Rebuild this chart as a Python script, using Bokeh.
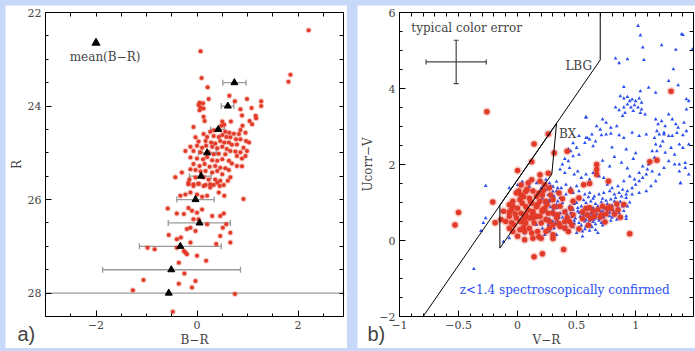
from bokeh.plotting import figure
from bokeh.layouts import row, column
from bokeh.models import (Range1d, LinearAxis, SingleIntervalTicker, FixedTicker, Label, Whisker,
                          TeeHead, ColumnDataSource)
from bokeh.embed import file_html
from bokeh.resources import INLINE

# ---------------- Panel a) data : R vs B-R ----------------
a_br = [2.21, 1.85, 1.81, 0.07, 0.09, 0.21, 0.64, 0.23, 0.99, 0.75, 1.27, 1.27, 0.05, 0.12, 0.03,
        0.07, 0.05, 0.13, 1.08, 0.86, 0.89, 1.16, 1.17, 0.13, 0.15, 1.04, 1.09, -0.07, 0.67, 0.90,
        0.86, 0.50, 0.54, 0.48,
        0.26, 0.34, 0.56, 0.64, 0.73, 0.83, 0.96,
        0.13, 0.20, 0.33, 0.43, 0.50, 0.58, 0.66, 0.77, 0.86, 0.97, 1.03,
        -0.03, 0.03, 0.17, 0.28, 0.36, 0.46, 0.54, 0.63, 0.69, 0.79, 0.92, 0.99,
        -0.13, 0.00, 0.10, 0.18, 0.30, 0.40, 0.50, 0.59, 0.66, 0.76, 0.86, 0.96,
        -0.23, -0.07, 0.07, 0.23, 0.33, 0.43, 0.56, 0.79, 0.89,
        -0.13, 0.00, 0.12, 0.20, 0.30, 0.40, 0.50, 0.63, 0.69,
        -0.07, 0.05, 0.15, 0.25, 0.36, 0.46, 0.56, 0.79, 0.89,
        -0.13, -0.03, 0.07, 0.17, 0.30, 0.40, 0.50, 0.63, 0.66,
        -0.43, -0.30, -0.15, -0.03, 0.13, 0.23, 0.36, 0.46, 0.61,
        -0.17, -0.07, 0.03, 0.17, 0.26, 0.33, 0.45,
        -0.17, -0.07, 0.03, 0.13, 0.26, 0.40, 0.53,
        -0.33, -0.23, -0.13, 0.00, 0.10, 0.20, 0.43, 0.54, 0.92,
        -0.58, -0.40, -0.26, -0.17, -0.10, 0.00, 0.10, 0.30, 0.46, 0.53,
        -0.20, -0.13, -0.03, 0.20, 0.51, 0.58, 0.66, -0.07, 0.03,
        -0.56, -0.40, -0.32, -0.13, 0.46, 0.66, 0.38,
        -0.98, -0.84, -0.40, -0.26, -0.23, -0.20, 0.00, 0.18,
        -0.36, -0.25, -1.06, -0.36, -0.03, -0.10,
        -1.27, 0.75, -0.48]
a_r = [22.38, 23.33, 23.48, 22.83, 23.40, 23.60, 23.78, 23.85, 23.85, 23.90, 23.90, 24.00, 23.93, 23.94, 23.98,
       24.03, 24.09, 24.05, 24.04, 24.07, 24.20, 24.21, 24.26, 24.23, 24.32, 24.32, 24.39, 24.45, 24.33, 24.42,
       24.51, 24.33, 24.40, 24.42,
       24.55, 24.52, 24.55, 24.57, 24.59, 24.60, 24.57,
       24.60, 24.66, 24.64, 24.66, 24.62, 24.66, 24.67, 24.71, 24.71, 24.75, 24.78,
       24.67, 24.76, 24.75, 24.78, 24.80, 24.75, 24.78, 24.78, 24.83, 24.82, 24.89, 24.96,
       24.87, 24.85, 24.89, 24.85, 24.87, 24.90, 24.87, 24.92, 24.96, 24.97, 24.99, 25.07,
       24.96, 24.96, 24.99, 24.99, 25.03, 25.02, 25.03, 25.07, 25.12,
       25.10, 25.12, 25.14, 25.09, 25.16, 25.17, 25.14, 25.17, 25.23,
       25.24, 25.28, 25.24, 25.30, 25.28, 25.32, 25.33, 25.28, 25.29,
       25.35, 25.37, 25.40, 25.39, 25.42, 25.39, 25.46, 25.37, 25.52,
       25.52, 25.42, 25.57, 25.53, 25.52, 25.57, 25.57, 25.60, 25.60,
       25.67, 25.71, 25.66, 25.69, 25.74, 25.69, 25.71,
       25.64, 25.67, 25.66, 25.71, 25.67, 25.64, 25.69,
       25.92, 25.89, 25.85, 25.89, 25.94, 25.92, 25.85, 25.92, 25.99,
       26.19, 26.30, 26.31, 26.18, 26.24, 26.28, 26.21, 26.35, 26.35, 26.30,
       26.63, 26.60, 26.67, 26.53, 26.60, 26.53, 26.71, 26.42, 26.42,
       26.76, 26.85, 26.81, 26.92, 26.78, 26.92, 26.95,
       27.03, 27.06, 27.03, 27.10, 27.13, 27.17, 27.20, 27.31,
       27.35, 27.58, 27.72, 27.80, 27.74, 27.88,
       27.94, 28.02, 28.40]

mean_r = [23.5, 24.0, 24.5, 25.0, 25.5, 26.0, 26.5, 27.0, 27.5, 28.0]
mean_br = [0.74, 0.61, 0.42, 0.20, 0.08, -0.03, 0.05, -0.33, -0.51, -0.56]
err_lo = [0.51, 0.48, 0.27, 0.03, -0.15, -0.40, -0.57, -1.14, -1.87, -3.0]
err_hi = [0.97, 0.73, 0.54, 0.38, 0.28, 0.34, 0.66, 0.48, 0.86, 2.9]

# ---------------- Panel b) data : Ucorr-V vs V-R ----------------
red_vr = [1.30, -0.26, 0.14, 0.26, 0.31, 0.42, 0.12, 0.00, 0.67, 0.67, 0.67, 0.61, 0.56, 0.77,
          1.12, 1.18, 0.84, 0.87, 0.74, 0.95, 0.39, 0.14, 0.21,
          -0.21, -0.50, -0.53, -0.14, -0.12, -0.07, -0.07, -0.05, -0.19,
          -0.01, 0.03, 0.07, 0.10, 0.16, 0.19, 0.23, 0.27, 0.26, 0.19, 0.12, 0.09, 0.03,
          0.00, 0.03, 0.07, 0.10, 0.16, 0.14, 0.20, -0.01, -0.03, 0.02, 0.06, 0.10, -0.04,
          0.00, 0.06, 0.13, 0.20, 0.24, 0.27, 0.30, 0.26, 0.23, 0.16, 0.12, 0.04, -0.04, 0.31,
          -0.07, -0.05, 0.02, 0.07, 0.13, 0.19, 0.21, 0.24, 0.30, 0.30, 0.33, -0.10, -0.07,
          0.07, 0.17, 0.13, 0.24, 0.04,
          0.61, 0.64, 0.68, 0.72, 0.59, 0.65, 0.71, 0.75, 0.76, 0.79, 0.55, 0.47, 0.44, 0.40,
          0.43, 0.36, 0.30, 0.34, 0.27, 0.21, 0.19, 0.47, 0.52, 0.45,
          0.08, 0.13, 0.18, 0.22, 0.05, 0.11, 0.17, 0.21, 0.25, 0.28, 0.35, 0.38, 0.36, 0.40,
          0.42, 0.45, -0.02, 0.02, 0.06, 0.09, 0.13, -0.04, 0.01, 0.05, 0.12, 0.18, 0.30, 0.35,
          0.40, 0.46, 0.55, 0.58, 0.62, 0.70, 0.78, 0.82, 0.85, 0.90, 0.52, 0.60]
red_ucv = [3.93, 3.39, 2.54, 2.80, 2.30, 2.35, 2.07, 1.84, 2.00, 1.87, 1.74, 1.50, 1.47, 1.56,
           2.07, 2.11, 0.96, 0.61, 0.49, 0.18, -0.24, -0.43, -0.35,
           1.01, 0.74, 0.41, 0.55, 0.77, 0.75, 0.64, 0.47, 0.47,
           1.25, 1.20, 1.29, 1.11, 1.16, 1.56, 1.47, 1.38, 1.77, 1.73, 1.60, 1.51, 1.46,
           0.85, 0.72, 0.68, 0.59, 0.63, 0.46, 0.46, 0.59, 0.41, 0.28, 0.24, 0.32, 0.24,
           0.11, 0.02, 0.06, 0.06, 0.24, 0.32, 0.41, 0.72, 0.85, 0.89, 0.98, 0.98, 1.03, 0.89,
           0.94, 0.81, 1.07, 0.89, 0.76, 1.03, 1.20, 1.03, 1.07, 0.72, 0.59, 0.50, 0.32,
           0.46, 0.24, 0.59, 0.55, 0.50,
           0.86, 0.77, 0.81, 0.90, 0.68, 0.64, 0.68, 0.70, 0.84, 0.84, 0.57, 0.68, 0.50, 0.33,
           0.24, 0.37, 0.15, 0.68, 0.50, 0.77, 0.64, 1.03, 1.12, 1.30,
           1.35, 1.30, 1.25, 1.32, 1.15, 1.02, 0.95, 0.80, 0.95, 1.20, 1.25, 1.10, 0.90, 0.75,
           0.60, 0.85, 0.70, 0.50, 0.60, 0.80, 0.70, 0.90, 1.30, 0.35, 0.20, 0.10, 0.05, 0.45,
           0.50, 0.40, 0.75, 0.85, 0.58, 0.62, 0.88, 0.70, 0.80, 0.95, 0.30, 0.40]

blue_vr = [1.02, 1.04, 1.40, 1.22, 1.06, 1.34, 0.83, 0.86, 0.93, 1.07, 1.32, 1.28, 1.36, 1.11,
           0.90, 1.04, 1.17, 1.43, 1.43, 1.39, 1.48,
           0.87, 0.90, 0.93, 0.95, 0.97, 1.00, 1.03, 1.05, 0.93, 0.96, 0.99, 1.02, 1.05, 0.90,
           0.86, 0.83, 0.98, 1.04, 1.08, 0.91, 0.89,
           0.72, 0.75, 0.67, 0.70, 0.79, 0.84, 1.17, 1.19, 1.22, 1.25, 1.28, 1.31, 1.34, 1.36,
           1.41, 1.43, 1.18, 1.24, 1.31, 1.35, 0.58, 0.52, 0.59, 0.63, 0.58,
           0.58, 0.61, 0.57, 0.64, 0.66, 0.71, 0.75, 0.79, 0.86, 0.90, 0.97, 1.03, 1.09, 1.16,
           1.20, 1.24, 1.28, 1.40,
           0.45, 0.50, 0.52, 0.47, 0.43, 0.38, 0.36, 0.40, 0.44, 0.48, 0.51, 0.54, 0.58, 0.61,
           0.64, 0.69, 0.73, 0.76, 0.80, 0.85, 0.89, 0.93, 0.97, 1.00, 1.03, 1.06, 1.09, 1.10,
           1.11, 1.16, 1.18, 1.21, 1.23, 1.14, 1.17, 1.25, 1.30, 1.33, 1.37, 1.40, 1.14, 1.06,
           1.03, 0.99, 0.95, 0.90, 0.86, 0.92, 0.97, 1.03, 1.09, 1.13, 1.17, 1.20, 1.24, 1.28,
           1.33, 1.37, 1.42, 1.38, 1.45, 1.38, 1.37, 1.42, 1.45, 1.45,
           0.40, 0.43, 0.47, 0.72, 0.78, 0.82, 0.88, 0.93, 0.98, 0.80, 0.92, 1.00,
           0.24, 0.28, 0.33, 0.37, 0.41, 0.45, 0.50, 0.30, 0.36, 0.41, 0.47, 0.52, 0.57, 0.61,
           0.65, 0.69, 0.73, 0.78, 0.82,
           0.23, 0.27, 0.33, 0.38, 0.44, 0.50, 0.54, 0.58, 0.62, 0.66, 0.71, 0.75, 0.79, 0.83,
           0.88, 0.92,
           0.24, 0.30, 0.36, 0.41, 0.45, 0.51, 0.55, 0.59, 0.64, 0.68, 0.72, 0.76, 0.81, 0.85, 0.89,
           0.27, 0.33, 0.38, 0.43, 0.48, 0.52, 0.57, 0.61, 0.65, 0.69, 0.73, 0.78, 0.82, 0.86,
           0.36, 0.41, 0.47, 0.52, 0.58, 0.62, 0.66, 0.71, 0.75, 0.79,
           0.44, 0.50, 0.55, 0.61, 0.66, 0.55, 0.68, 0.92, 0.92,
           0.46, 0.49, 0.53, 0.56, 0.60, 0.63, 0.67, 0.70, 0.74, 0.47, 0.51, 0.55, 0.58, 0.62,
           0.66, 0.70, 0.74, 0.78, 0.80, 0.84, 0.87, 0.42, 0.39, 0.35, 0.31, 0.28, 0.32, 0.40,
           0.48, 0.54, 0.60, 0.64, 0.69, 0.72, 0.57, 0.63, 0.45, 0.52, 0.48, 0.56, 0.60, 0.64,
           0.72, 0.76, 0.82, 0.86, 0.90, 0.93, 0.95, 0.88, 0.84, 0.80,
           -0.27, -0.07, 0.00, 0.04, 0.10, 0.16, 0.20, 0.24, 0.27, 0.30, 0.33, 0.34, 0.30, 0.26,
           0.21, 0.27, 0.31, 0.34, 0.33, 0.28, 0.24, 0.20, 0.16, 0.10, 0.06, 0.21, 0.26, 0.30,
           0.34, 0.31, 0.27, 0.23, 0.33, -0.29, -0.31, -0.27, -0.07, -0.12, -0.37]
blue_ucv = [5.65, 5.40, 5.41, 5.14, 5.08, 5.02, 4.79, 4.67, 4.77, 4.75, 4.51, 4.20, 4.09, 4.02,
            4.04, 3.93, 3.89, 3.72, 3.45, 5.43, 5.03,
            3.80, 3.74, 3.78, 3.67, 3.71, 3.67, 3.74, 3.63, 3.58, 3.50, 3.56, 3.50, 3.45, 3.50,
            3.43, 3.50, 3.41, 3.36, 3.32, 3.36, 3.28,
            3.19, 3.10, 3.01, 2.92, 2.97, 3.01, 3.19, 3.06, 3.14, 3.01, 3.32, 3.19, 3.06, 2.97,
            3.10, 2.88, 2.88, 2.79, 2.75, 2.83, 3.25, 2.75, 2.70, 2.79, 3.23,
            2.70, 2.66, 2.57, 2.48, 2.61, 2.77, 2.79, 2.81, 2.77, 2.70, 2.84, 2.75, 2.79, 2.70,
            2.79, 2.84, 2.75, 2.77,
            2.35, 2.44, 2.26, 2.22, 2.09, 2.00, 1.87, 1.78, 1.91, 1.74, 1.82, 1.65, 1.74, 1.61,
            1.78, 1.69, 1.65, 1.47, 1.38, 1.43, 1.34, 1.30, 1.38, 1.47, 1.56, 1.65, 1.74, 1.87,
            2.00, 2.18, 2.35, 2.48, 2.61, 2.35, 2.53, 2.31, 2.44, 2.26, 2.53, 2.44, 1.82, 1.95,
            1.78, 1.61, 1.69, 1.56, 1.25, 1.21, 1.21, 1.25, 1.30, 1.43, 1.56, 1.74, 1.91, 2.09,
            2.00, 1.82, 2.04, 1.51, 1.74, 1.51, 2.00, 1.91, 2.53, 3.67,
            2.15, 2.40, 2.56, 2.10, 1.95, 2.20, 2.05, 1.90, 2.15, 2.45, 2.40, 2.30,
            1.34, 1.43, 1.30, 1.38, 1.47, 1.38, 1.43, 1.16, 1.12, 1.21, 1.25, 1.30, 1.21, 1.25,
            1.16, 1.21, 1.25, 1.30, 1.21,
            0.99, 1.03, 0.94, 0.99, 0.90, 0.99, 0.90, 0.99, 1.03, 0.96, 1.01, 1.05, 1.08, 1.12,
            1.16, 1.12,
            0.77, 0.81, 0.72, 0.79, 0.72, 0.77, 0.79, 0.81, 0.86, 0.90, 0.77, 0.75, 0.79, 0.86, 0.90,
            0.57, 0.52, 0.61, 0.57, 0.52, 0.46, 0.50, 0.52, 0.55, 0.57, 0.61, 0.64, 0.66, 0.72,
            0.42, 0.37, 0.35, 0.33, 0.37, 0.40, 0.43, 0.46, 0.50, 0.52,
            0.24, 0.20, 0.24, 0.26, 0.28, 0.11, 0.20, 0.64, 0.57,
            0.62, 0.58, 0.63, 0.66, 0.62, 0.68, 0.70, 0.65, 0.69, 0.81, 0.86, 0.70, 0.55, 0.71,
            0.60, 0.78, 0.83, 0.73, 0.92, 0.97, 1.02, 0.67, 0.48, 0.60, 0.66, 0.88, 0.44, 0.28,
            0.45, 0.40, 0.45, 0.49, 0.52, 0.40, 0.30, 0.35, 0.48, 0.73, 0.96, 1.06, 1.14, 1.10,
            1.10, 0.96, 1.03, 0.82, 0.78, 0.90, 1.00, 0.60, 0.55, 0.60,
            1.44, 1.38, 1.46, 1.55, 1.42, 1.51, 1.38, 1.60, 1.51, 1.42, 1.55, 1.38, 1.29, 1.20,
            1.11, 1.07, 1.16, 1.03, 0.85, 0.72, 0.59, 0.50, 0.41, 0.32, 0.19, 0.32, 0.41, 0.50,
            0.59, 0.32, 0.24, 0.15, 0.15, 0.46, 0.25, 0.59, 0.06, -0.03, -0.75]

lbg_x = [-0.8, 0.7, 0.7]
lbg_y = [-2.0, 4.75, 6.0]
bx_x = [-0.15, -0.15, 0.29, 0.33]
bx_y = [0.93, -0.20, 1.75, 3.08]
typ_err_x, typ_err_y, typ_err_dx, typ_err_dy = -0.52, 4.70, 0.255, 0.57

# axis limits and tick positions
A_X = (-3.0, 2.9)
A_Y = (22.0, 28.5)          # drawn inverted (22 at top)
B_X = (-1.0, 1.49)
B_Y = (-2.0, 6.0)
a_x_major = [-2, 0, 2]
a_x_minor = [-2.5, -1.5, -1.0, -0.5, 0.5, 1.0, 1.5, 2.5]
a_y_major = [22, 24, 26, 28]
a_y_minor = [22.5, 23, 23.5, 24.5, 25, 25.5, 26.5, 27, 27.5, 28.5]
b_x_major = [-1.0, -0.5, 0.0, 0.5, 1.0]
b_x_minor = [round(-0.9 + 0.1 * i, 1) for i in range(24)]
b_y_major = [-2, 0, 2, 4, 6]
b_y_minor = [-1.5, -1, -0.5, 0.5, 1, 1.5, 2.5, 3, 3.5, 4.5, 5, 5.5]

SERIF = "DejaVu Serif"
BLUE_BG = "#c8d8f8"
RED = "#e23a28"
BLUE = "#2b4ff0"

# layout (pixels): figure size and space between canvas edge and the axis box
H = 343
PAD_T, PAD_B = 7, 32


def padded(lo, hi, pad_lo, pad_hi, inner):
    s = (hi - lo) / inner
    return lo - pad_lo * s, hi + pad_hi * s


def make_fig(W, pad_l, pad_r, xlim, ylim, invert_y, xlabel, ylabel):
    x0, x1 = padded(xlim[0], xlim[1], pad_l, pad_r, W - pad_l - pad_r)
    if invert_y:
        # ylim[1] at the bottom, ylim[0] at the top
        s = (ylim[1] - ylim[0]) / (H - PAD_T - PAD_B)
        yr = Range1d(ylim[1] + PAD_B * s, ylim[0] - PAD_T * s)
    else:
        y0, y1 = padded(ylim[0], ylim[1], PAD_B, PAD_T, H - PAD_T - PAD_B)
        yr = Range1d(y0, y1)
    p = figure(width=W, height=H, output_backend="svg", toolbar_location=None, tools="",
               x_range=Range1d(x0, x1), y_range=yr, x_axis_location=None, y_axis_location=None,
               min_border_left=0, min_border_right=0, min_border_top=0, min_border_bottom=0)
    p.xgrid.visible = False
    p.ygrid.visible = False
    p.outline_line_color = None
    p.background_fill_color = "white"
    p.border_fill_color = "white"
    return p


def add_axis(p, side, loc, bounds, ticker, label=None, labels=True, over=None):
    kw = dict(fixed_location=loc, bounds=bounds, ticker=ticker, axis_line_color="black",
              major_tick_line_color="black", minor_tick_line_color="black",
              major_tick_in=6, major_tick_out=0, minor_tick_in=3, minor_tick_out=0)
    if labels:
        kw.update(major_label_text_font=SERIF, major_label_text_font_size="11px",
                  major_label_standoff=4, axis_label=label, axis_label_text_font=SERIF,
                  axis_label_text_font_size="12px", axis_label_text_font_style="normal",
                  axis_label_standoff=1)
        if over:
            kw["major_label_overrides"] = over
    else:
        kw.update(minor_tick_in=4)
    p.add_layout(LinearAxis(**kw), side)


def mirror_ticker(major, minor):
    return FixedTicker(ticks=[], minor_ticks=sorted(set(major) | set(minor)))


# ---------------- figure a ----------------
pa = make_fig(342, 40, 4, A_X, A_Y, True, "B\u2212R", "R")
add_axis(pa, "below", A_Y[1], A_X, SingleIntervalTicker(interval=2, num_minor_ticks=4),
         label="B\u2212R", over={-2: "\u22122"})
add_axis(pa, "left", A_X[0], A_Y, SingleIntervalTicker(interval=2, num_minor_ticks=4), label="R")
add_axis(pa, "above", A_Y[0], A_X, mirror_ticker(a_x_major, a_x_minor), labels=False)
add_axis(pa, "right", A_X[1], A_Y, mirror_ticker(a_y_major, a_y_minor), labels=False)

pa.scatter(a_br, a_r, size=6, color=RED, alpha=0.25, line_color=None)
pa.scatter(a_br, a_r, size=4, color=RED, line_color=None)
src = ColumnDataSource(dict(r=mean_r, br=mean_br, lo=err_lo, hi=err_hi))
pa.add_layout(Whisker(source=src, base="r", lower="lo", upper="hi", dimension="width",
                      line_color="#9a9a9a", line_width=1.3,
                      lower_head=TeeHead(size=6, line_color="#9a9a9a", line_width=1.3),
                      upper_head=TeeHead(size=6, line_color="#9a9a9a", line_width=1.3)))
pa.scatter("br", "r", source=src, marker="triangle", size=7, color="black")
pa.scatter([-2.0], [22.65], marker="triangle", size=8, color="black")
pa.add_layout(Label(x=-2.52, y=22.96, text="mean(B\u2212R)", text_font=SERIF,
                    text_font_size="12px", text_baseline="middle"))
pa.add_layout(Label(x=12, y=4, x_units="screen", y_units="screen", text="a)",
                    text_font="Liberation Sans", text_font_size="20px", text_baseline="bottom"))

# ---------------- figure b ----------------
pb = make_fig(338, 42, 2, B_X, B_Y, False, "V\u2212R", "Ucorr\u2212V")
add_axis(pb, "below", B_Y[0], B_X, SingleIntervalTicker(interval=0.5, num_minor_ticks=5),
         label="V\u2212R", over={-1: "\u22121", -0.5: "\u22120.5"})
add_axis(pb, "left", B_X[0], B_Y, SingleIntervalTicker(interval=2, num_minor_ticks=4),
         label="Ucorr\u2212V", over={-2: "\u22122"})
add_axis(pb, "above", B_Y[1], B_X, mirror_ticker(b_x_major, b_x_minor), labels=False)
add_axis(pb, "right", B_X[1], B_Y, mirror_ticker(b_y_major, b_y_minor), labels=False)

pb.scatter(blue_vr, blue_ucv, marker="triangle", size=3.8, color=BLUE, line_color=None)
pb.scatter(red_vr, red_ucv, size=8.5, color=RED, alpha=0.25, line_color=None)
pb.scatter(red_vr, red_ucv, size=5.5, color=RED, line_color=None)
pb.line(lbg_x, lbg_y, line_color="black", line_width=1)
pb.line(bx_x + [bx_x[0]], bx_y + [bx_y[0]], line_color="black", line_width=1)
esrc = ColumnDataSource(dict(x=[typ_err_x], y=[typ_err_y],
                             xl=[typ_err_x - typ_err_dx], xh=[typ_err_x + typ_err_dx],
                             yl=[typ_err_y - typ_err_dy], yh=[typ_err_y + typ_err_dy]))
for dim, base, lo, hi in (("width", "y", "xl", "xh"), ("height", "x", "yl", "yh")):
    pb.add_layout(Whisker(source=esrc, base=base, lower=lo, upper=hi, dimension=dim,
                          line_color="#444444", line_width=1.2,
                          lower_head=TeeHead(size=5, line_color="#444444", line_width=1.2),
                          upper_head=TeeHead(size=5, line_color="#444444", line_width=1.2)))
pb.add_layout(Label(x=-0.90, y=5.58, text="typical color error", text_font=SERIF,
                    text_font_size="12px", text_baseline="middle"))
pb.add_layout(Label(x=0.405, y=4.59, text="LBG", text_font=SERIF,
                    text_font_size="12px", text_baseline="middle"))
pb.add_layout(Label(x=0.35, y=2.79, text="BX", text_font=SERIF,
                    text_font_size="12px", text_baseline="middle"))
pb.add_layout(Label(x=-0.49, y=-1.31, text="z<1.4 spectroscopically confirmed", text_font=SERIF,
                    text_font_size="12px", text_baseline="middle", text_color=BLUE))
pb.add_layout(Label(x=10, y=4, x_units="screen", y_units="screen", text="b)",
                    text_font="Liberation Sans", text_font_size="20px", text_baseline="bottom"))

inner = row(pa, pb, spacing=10, margin=(5, 0, 0, 5))
lay = column(inner, styles={"background-color": BLUE_BG})
try:
    from bokeh.models import GlobalInlineStyleSheet
    lay.stylesheets = [GlobalInlineStyleSheet(css="body{background-color:%s;}" % BLUE_BG)]
except Exception:
    pass

open("out.html", "w").write(file_html(lay, INLINE))
